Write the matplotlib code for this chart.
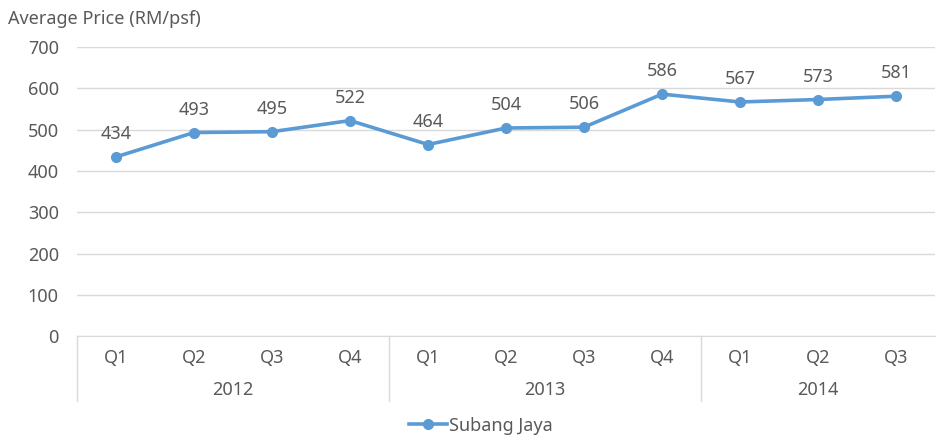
import matplotlib.pyplot as plt
import matplotlib.transforms as mtransforms
import numpy as np

plt.rcParams['font.family'] = ['Noto Sans', 'DejaVu Sans']

years    = ["2012", "2013", "2014"]
quarters = [["Q1", "Q2", "Q3", "Q4"], ["Q1", "Q2", "Q3", "Q4"], ["Q1", "Q2", "Q3"]]
prices   = [434, 493, 495, 522, 464, 504, 506, 586, 567, 573, 581]

line_color = '#5B9BD5'
text_color = '#595959'
grid_color = '#D9D9D9'
fs = 13

fig = plt.figure(figsize=(9.38, 4.44), dpi=100)
ax = fig.add_axes([0.082, 0.243, 0.915, 0.651])

x = np.arange(len(prices))
ax.plot(x, prices, color=line_color, lw=2.6, marker='o', ms=7, label='Subang Jaya', zorder=3)
for xi, p in zip(x, prices):
    ax.annotate(str(p), (xi, p), xytext=(0, 10), textcoords='offset points',
                ha='center', va='bottom', fontsize=fs, color=text_color)

ax.set_xlim(-0.5, len(prices) - 0.5)
ax.set_ylim(0, 700)
ax.set_yticks(range(0, 701, 100))
ax.yaxis.grid(True, color=grid_color, lw=1)
ax.set_axisbelow(True)
for s in ['top', 'right', 'left']:
    ax.spines[s].set_visible(False)
ax.spines['bottom'].set_color(grid_color)
ax.tick_params(axis='y', length=0, labelsize=fs, labelcolor=text_color, pad=13)
ax.set_xticks([])

# two-level category axis
trans = mtransforms.blended_transform_factory(ax.transData, ax.transAxes)
pos = -0.5
edges = [pos]
for yr, qs in zip(years, quarters):
    for i, q in enumerate(qs):
        ax.text(pos + 0.5 + i, -0.075, q, transform=trans, ha='center', va='center',
                fontsize=fs, color=text_color)
    ax.text(pos + len(qs) / 2, -0.185, yr, transform=trans, ha='center', va='center',
            fontsize=fs, color=text_color)
    pos += len(qs)
    edges.append(pos)
for e in edges[:-1]:
    ax.plot([e, e], [0, -0.225], transform=trans, color=grid_color, lw=1, clip_on=False)

fig.text(0.009, 0.958, 'Average Price (RM/psf)', ha='left', va='center',
         fontsize=fs, color=text_color)

ax.legend(loc='center', bbox_to_anchor=(0.471, -0.31), frameon=False, fontsize=fs,
          labelcolor=text_color, handlelength=2.1, handletextpad=0.1)

fig.savefig('out.png', dpi=100)
